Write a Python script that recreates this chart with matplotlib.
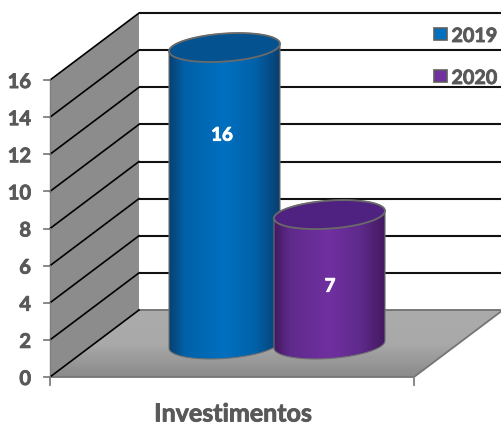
import numpy as np
import matplotlib
matplotlib.use("Agg")
import matplotlib.pyplot as plt
import matplotlib.patheffects as pe
from matplotlib.colors import LinearSegmentedColormap
from matplotlib.patches import Polygon, Rectangle

# chart values
years = ["2019", "2020"]
values = [16, 7]
y_ticks = [0, 2, 4, 6, 8, 10, 12, 14, 16]
category = "Investimentos"

# layout of the fake 3D box, in figure pixels
W, H = 502, 424
FRONT_X, FRONT_Y = 50, 377
BACK_DX, BACK_DY = 89, -67
FLOOR_W = 364
UNIT = 18.56
BAR_X = [224.5, 329.5]
BAR_Y = 344.5
RX, RY, TILT = 55.5, 14.0, -3.7
LABEL_POS = [(222, 0.29), (330, 0.54)]

colors = ["#0070c0", "#7030a0"]
edge_dark = ["#0a3f70", "#44195f"]
mid_cols = ["#0061a8", "#5f2a8c"]
top_cols = ["#04528f", "#4f2180"]
GREY = "#595959"

plt.rcParams["font.family"] = ["Lato", "DejaVu Sans"]
fig = plt.figure(figsize=(W / 100, H / 100), dpi=100)
ax = fig.add_axes([0, 0, 1, 1])


def front_y(v):
    return FRONT_Y - v * UNIT


def gradient(stops, extent, clip, vertical=False, z=2):
    cmap = LinearSegmentedColormap.from_list("g", stops)
    g = np.linspace(0, 1, 256)
    g = g.reshape(-1, 1) if vertical else g.reshape(1, -1)
    im = ax.imshow(g, cmap=cmap, extent=extent, aspect="auto", zorder=z,
                   origin="upper", interpolation="bilinear")
    im.set_clip_path(clip)


def ellipse_xy(cx, cy, start=0, stop=2 * np.pi):
    t = np.linspace(start, stop, 120)
    return cx + RX * np.cos(t), cy + RY * np.sin(t) + TILT * np.cos(t)


def bold_text(x, y, s, size, color, ha="center", z=6):
    t = ax.text(x, y, s, ha=ha, va="center_baseline", fontsize=size, fontweight="bold",
                color=color, zorder=z)
    t.set_path_effects([pe.withStroke(linewidth=0.6, foreground=color)])
    return t


# side wall
bx, by = FRONT_X + BACK_DX, FRONT_Y + BACK_DY
wall = Polygon([(FRONT_X, front_y(16)), (bx, front_y(16) + BACK_DY), (bx, by), (FRONT_X, FRONT_Y)],
               fc="#8c8c8c", ec="none", zorder=1)
ax.add_patch(wall)

# floor
floor_pts = [(FRONT_X, FRONT_Y), (bx, by), (bx + FLOOR_W, by), (FRONT_X + FLOOR_W, FRONT_Y)]
floor = Polygon(floor_pts, fc="none", ec="none", zorder=1)
ax.add_patch(floor)
gradient([(0, "#ababab"), (0.5, "#a9a9a9"), (1, "#8a8a8a")], (FRONT_X, bx + FLOOR_W, FRONT_Y, by), floor,
         vertical=True, z=1)
ax.plot([FRONT_X, FRONT_X + FLOOR_W, bx + FLOOR_W], [FRONT_Y, FRONT_Y, by], color="#757575", lw=1.3, zorder=2)
ax.plot([bx, bx + FLOOR_W], [by, by], color="#707070", lw=1.3, zorder=2)
ax.plot([FRONT_X, FRONT_X], [FRONT_Y, front_y(16)], color="#7f7f7f", lw=1.0, zorder=2)

# grid lines across wall and back
for v in y_ticks:
    y = front_y(v)
    ax.plot([FRONT_X, bx], [y, y + BACK_DY], color="black", lw=1.2, zorder=2)
    if v > 0:
        ax.plot([bx, W], [y + BACK_DY, y + BACK_DY], color="#111111", lw=1.5, zorder=2,
                solid_capstyle="butt")
    ax.plot([FRONT_X - 6, FRONT_X], [y, y], color="#7f7f7f", lw=1.3, zorder=2)
    bold_text(FRONT_X - 19, y, str(v), 14.5, GREY, ha="right", z=5)

# category ticks
for x in (FRONT_X, FRONT_X + FLOOR_W):
    ax.plot([x, x], [FRONT_Y, FRONT_Y + 8], color="#7f7f7f", lw=1.3, zorder=2)

# cylinders
for i, v in enumerate(values):
    cx = BAR_X[i]
    top = BAR_Y - v * UNIT
    z = 3 + i
    lo_x, lo_y = ellipse_xy(cx, BAR_Y, 0, np.pi)
    hi_x, hi_y = ellipse_xy(cx, top, np.pi, 2 * np.pi)
    outline = np.column_stack([np.r_[lo_x, hi_x], np.r_[lo_y, hi_y]])
    body = Polygon(outline, closed=True, fc="none", ec="none", zorder=z)
    ax.add_patch(body)
    stops = [(0, edge_dark[i]), (0.14, mid_cols[i]), (0.5, colors[i]), (0.78, mid_cols[i]), (1, edge_dark[i])]
    gradient(stops, (cx - RX, cx + RX, BAR_Y + RY + 4, top - RY - 4), body, z=z)
    ax.add_patch(Polygon(outline, closed=True, fc="none", ec="#707070", lw=0.8, zorder=z))
    ex, ey = ellipse_xy(cx, top)
    ax.add_patch(Polygon(np.column_stack([ex, ey]), closed=True, fc=top_cols[i], ec="#6a6a6a",
                         lw=1.3, zorder=z))
    lx, frac = LABEL_POS[i]
    bold_text(lx, top + frac * v * UNIT, str(v), 13.5, "white")

# legend
for i, year in enumerate(years):
    y = 34 + i * 42
    ax.add_patch(Rectangle((434.5, y - 6.5), 12.5, 12.5, fc=colors[i], ec="#5f5f5f", lw=1.2, zorder=6))
    if i == 1:
        # label sits on a white patch that trims the grid line beneath it
        ax.add_patch(Rectangle((448, y - 8), 50, 17, fc="white", ec="none", zorder=3))
    bold_text(451.5, y, year, 14.2, GREY, ha="left")

bold_text(233, 412, category, 18, GREY)

ax.set_xlim(0, W)
ax.set_ylim(H, 0)
ax.axis("off")
fig.savefig("out.png", dpi=100)
